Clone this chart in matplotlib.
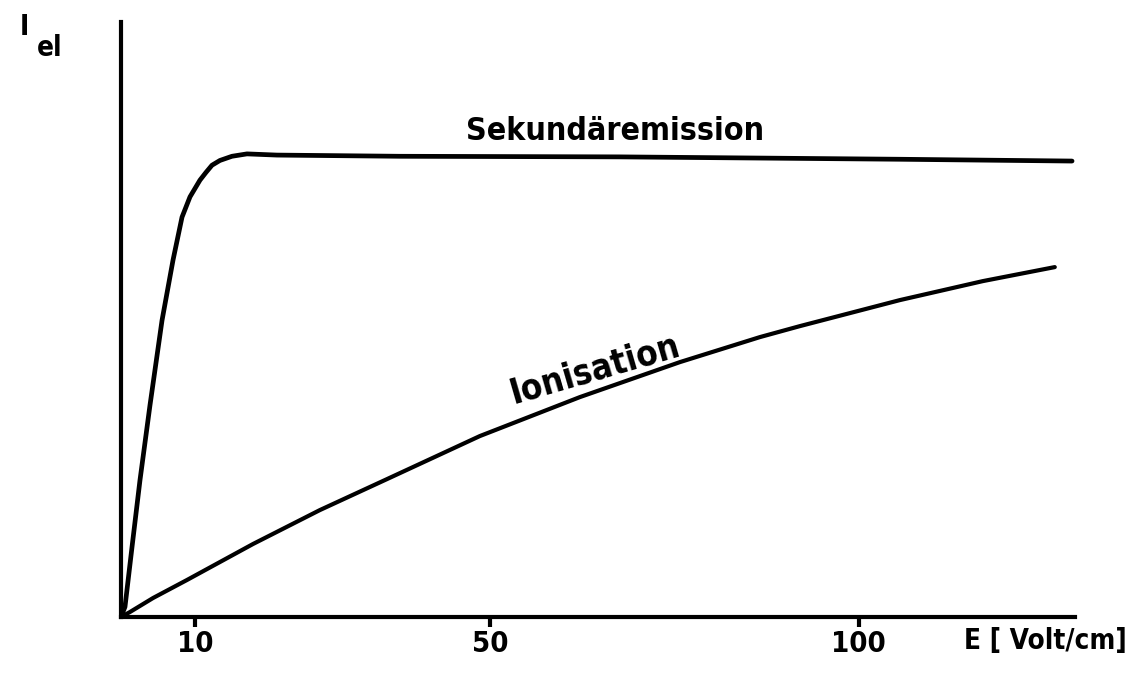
import matplotlib.pyplot as plt
import numpy as np

# field strength E [Volt/cm] and electron current (arbitrary units)
sek_x = [0, 0.54, 1.49, 2.57, 3.93, 5.56, 7.05, 8.27, 9.35, 10.70, 11.52, 12.33,
         13.41, 15.04, 17.07, 21.14, 37.8, 67.6, 105.6, 128.9]
sek_y = [0, 1.7, 11.7, 22.9, 35.5, 49.7, 59.8, 67.0, 70.4, 73.2, 74.5, 75.7,
         76.5, 77.2, 77.6, 77.4, 77.2, 77.1, 76.7, 76.4]

ion_x = [0, 1.22, 4.34, 8.94, 17.89, 26.96, 36.04, 48.64, 62.20, 75.75,
         86.59, 92.01, 105.56, 116.80, 126.56]
ion_y = [0, 0.84, 3.18, 6.2, 12.23, 17.92, 23.1, 30.32, 36.85, 42.71,
         46.9, 48.74, 53.1, 56.28, 58.63]

xticks = [10, 50, 100]

font = ['DejaVu Sans']
txt = dict(fontweight='bold', family=font, fontstretch='condensed')

fig = plt.figure(figsize=(11.43, 6.93), dpi=100)
ax = fig.add_axes([121 / 1143, 76 / 693, 954 / 1143, 595 / 693])

ax.plot(sek_x, sek_y, color='black', lw=3.4, solid_capstyle='round',
        solid_joinstyle='round')
ax.plot(ion_x, ion_y, color='black', lw=3.0, solid_capstyle='round',
        solid_joinstyle='round')

ax.set_xlim(0, 129.3)
ax.set_ylim(0, 99.7)

for s in ['top', 'right']:
    ax.spines[s].set_visible(False)
for s in ['left', 'bottom']:
    ax.spines[s].set_linewidth(3)

ax.set_xticks(xticks)
ax.set_xticklabels([str(t) for t in xticks], fontsize=21, **txt)
ax.tick_params(axis='x', direction='out', length=7, width=3, pad=2)
ax.set_yticks([])

ax.text(67.0, 80.0, 'Sekundäremission', fontsize=23, ha='center', va='baseline', **txt)
ax.text(53.1, 35.8, 'Ionisation', fontsize=25, rotation=16.2,
        rotation_mode='anchor', ha='left', va='baseline', **txt)

fig.text(1045 / 1143, 1 - 641 / 693, 'E [ Volt/cm]', fontsize=20,
         ha='center', va='center', **txt)
fig.text(24 / 1143, 1 - 27 / 693, 'I', fontsize=20, ha='center', va='center', **txt)
fig.text(50 / 1143, 1 - 48 / 693, 'el', fontsize=20, ha='center', va='center', **txt)

fig.savefig('out.png', dpi=100)
